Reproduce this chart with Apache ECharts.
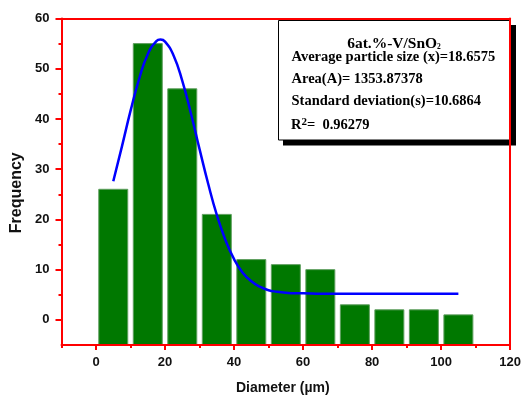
<!DOCTYPE html>
<html>
<head>
<meta charset="utf-8">
<script src="https://cdn.jsdelivr.net/npm/echarts@6/dist/echarts.min.js"></script>
<style>
  html, body { margin: 0; padding: 0; background: #ffffff; }
  #chart { width: 524px; height: 401px; }
</style>
</head>
<body>
<div id="chart"></div>
<script>
// Histogram bins (centre of each 10 µm bin) and their counts
const binCenters = [5, 15, 25, 35, 45, 55, 65, 75, 85, 95, 105];
const frequencies = [26, 55, 46, 21, 12, 11, 10, 3, 2, 2, 1];
const binWidth = 8.4;

// Gaussian fit curve, sampled along the diameter axis
const fitX = [5, 7.5, 10, 12.5, 15, 17.5, 18.66, 20, 22.5, 25, 27.5, 30, 32.5, 35, 37.5, 40, 42.5, 45, 47.5, 50, 52.5, 55, 57.5, 60, 65, 70, 80, 90, 105];
const fitY = [27.6, 34.5, 41.6, 48.0, 52.9, 55.5, 55.8, 55.4, 52.6, 47.6, 41.1, 34.0, 27.1, 20.9, 15.9, 12.1, 9.4, 7.7, 6.6, 5.9, 5.6, 5.4, 5.3, 5.3, 5.2, 5.2, 5.2, 5.2, 5.2];

// Axis ranges and tick positions
const xRange = [-10, 120];
const yRange = [-5, 60];
const xTickLabels = [0, 20, 40, 60, 80, 100, 120];
const xMinorTicks = [-10, 10, 30, 50, 70, 90, 110];
const yTickLabels = [0, 10, 20, 30, 40, 50, 60];
const yMinorTicks = [5, 15, 25, 35, 45, 55];

// Fit summary text
const sampleName = '6at.%-V/SnO';
const fitLines = [
  'Average particle size (x)=18.6575',
  'Area(A)= 1353.87378',
  'Standard deviation(s)=10.6864'
];
const rSquared = '0.96279';

const RED = '#ff0000';
const AXIS_FONT = '"Liberation Sans", Arial, sans-serif';
const SERIF = '"Liberation Serif", "Times New Roman", serif';

const chart = echarts.init(document.getElementById('chart'), null, { renderer: 'canvas' });

const redLine = { show: true, onZero: false, lineStyle: { color: RED, width: 2 } };
const hiddenLine = { show: false, onZero: false };
const tickLabelStyle = { color: '#111', fontFamily: AXIS_FONT, fontWeight: 'bold', fontSize: 13 };
const boxText = { fontFamily: SERIF, fontWeight: 'bold', fontSize: 14.5 };

const option = {
  animation: false,
  grid: { left: 61.5, right: 12, top: 18.5, bottom: 56, containLabel: false },
  xAxis: [
    {
      type: 'value', min: xRange[0], max: xRange[1], position: 'bottom', z: 6,
      axisLine: redLine,
      axisTick: { show: true, inside: false, length: 5, customValues: xTickLabels, lineStyle: { color: RED, width: 2 } },
      axisLabel: { show: true, margin: 11, customValues: xTickLabels, ...tickLabelStyle },
      splitLine: { show: false },
      name: 'Diameter (\u00b5m)', nameLocation: 'middle', nameGap: 36,
      nameTextStyle: { color: '#111', fontFamily: AXIS_FONT, fontWeight: 'bold', fontSize: 14, padding: [0, 6, 0, 0] }
    },
    {
      type: 'value', min: xRange[0], max: xRange[1], position: 'bottom', z: 6,
      axisLine: hiddenLine,
      axisTick: { show: true, inside: false, length: 3, customValues: xMinorTicks, lineStyle: { color: RED, width: 2 } },
      axisLabel: { show: false },
      splitLine: { show: false }
    },
    {
      type: 'value', min: xRange[0], max: xRange[1], position: 'top', z: 6,
      axisLine: redLine, axisTick: { show: false }, axisLabel: { show: false }, splitLine: { show: false }
    }
  ],
  yAxis: [
    {
      type: 'value', min: yRange[0], max: yRange[1], position: 'left', z: 6,
      axisLine: redLine,
      axisTick: { show: true, inside: false, length: 6, customValues: yTickLabels, lineStyle: { color: RED, width: 2 } },
      axisLabel: { show: true, margin: 12, customValues: yTickLabels, ...tickLabelStyle },
      splitLine: { show: false },
      name: 'Frequency', nameLocation: 'middle', nameGap: 36, nameRotate: 90,
      nameTextStyle: { color: '#111', fontFamily: AXIS_FONT, fontWeight: 'bold', fontSize: 16, padding: [0, 22, 0, 0] }
    },
    {
      type: 'value', min: yRange[0], max: yRange[1], position: 'left', z: 6,
      axisLine: hiddenLine,
      axisTick: { show: true, inside: false, length: 3, customValues: yMinorTicks, lineStyle: { color: RED, width: 2 } },
      axisLabel: { show: false },
      splitLine: { show: false }
    },
    {
      type: 'value', min: yRange[0], max: yRange[1], position: 'right', z: 6,
      axisLine: redLine, axisTick: { show: false }, axisLabel: { show: false }, splitLine: { show: false }
    }
  ],
  series: [
    {
      name: 'Counts',
      type: 'custom',
      xAxisIndex: 0, yAxisIndex: 0,
      data: binCenters.map((c, i) => [c, frequencies[i]]),
      encode: { x: 0, y: 1 },
      z: 2,
      renderItem: function (params, api) {
        const c = api.value(0);
        const v = api.value(1);
        const topLeft = api.coord([c - binWidth / 2, v]);
        const bottomRight = api.coord([c + binWidth / 2, yRange[0]]);
        return {
          type: 'rect',
          shape: {
            x: topLeft[0], y: topLeft[1],
            width: bottomRight[0] - topLeft[0],
            height: bottomRight[1] - topLeft[1]
          },
          style: { fill: '#007800', stroke: '#5f9f5f', lineWidth: 1 }
        };
      }
    },
    {
      name: 'Gauss fit',
      type: 'line',
      xAxisIndex: 0, yAxisIndex: 0,
      data: fitX.map((x, i) => [x, fitY[i]]),
      showSymbol: false,
      smooth: true,
      z: 3,
      lineStyle: { color: '#0000ff', width: 2.5 }
    }
  ],
  graphic: [
    { type: 'rect', z: 1, shape: { x: 283, y: 25, width: 233, height: 120.5 }, style: { fill: '#000' } },
    { type: 'rect', z: 1, shape: { x: 278.5, y: 20.5, width: 231.5, height: 119.5 }, style: { fill: '#fff', stroke: '#000', lineWidth: 1 } },
    {
      type: 'text', z: 1, x: 394, y: 43.5,
      style: {
        text: '{a|' + sampleName + '}{s|2}',
        align: 'center', verticalAlign: 'middle', fill: '#000',
        rich: {
          a: { fontFamily: SERIF, fontWeight: 'bold', fontSize: 15.5, lineHeight: 16 },
          s: { fontFamily: SERIF, fontWeight: 'bold', fontSize: 7.5, lineHeight: 9, verticalAlign: 'bottom' }
        }
      }
    },
    ...fitLines.map((t, i) => ({
      type: 'text', z: 1, x: 291.5, y: [57.5, 79.3, 100.8][i],
      style: { text: t, align: 'left', verticalAlign: 'middle', fill: '#000', ...boxText }
    })),
    {
      type: 'text', z: 1, x: 291, y: 125,
      style: {
        text: '{a|R}{p|2}{a|=  ' + rSquared + '}',
        align: 'left', verticalAlign: 'middle', fill: '#000',
        rich: {
          a: { ...boxText, lineHeight: 16 },
          p: { fontFamily: SERIF, fontWeight: 'bold', fontSize: 11, lineHeight: 1, verticalAlign: 'top' }
        }
      }
    }
  ]
};

chart.setOption(option);
</script>
</body>
</html>
